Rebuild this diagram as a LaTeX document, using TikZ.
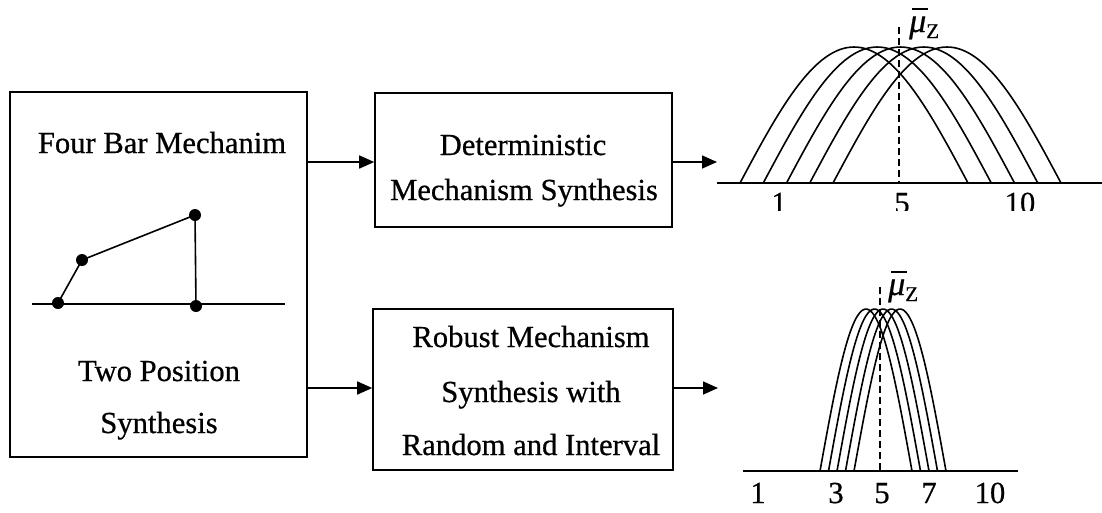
\documentclass[tikz,border=0pt]{standalone}
\usepackage{fontspec}
\setmainfont{Liberation Serif}[FakeBold=0.6]
\usetikzlibrary{arrows.meta}

\tikzset{
  box/.style={draw, line width=1.6pt, inner sep=0pt},
  lbl/.style={font=\fontsize{30.6}{36}\selectfont, anchor=base, inner sep=0pt},
  arr/.style={line width=1.6pt, -{Triangle[length=15pt,width=13pt]}},
  pin/.style={circle, fill, inner sep=0pt, minimum size=12pt},
  bar/.style={line width=1.6pt},
  hump/.style={line width=1.6pt, smooth, samples=40},
  mu/.style={font=\fontsize{34}{38}\selectfont, inner sep=0pt, anchor=base west}
}
\newcommand{\meanz}{\rlap{\hspace{3pt}\raisebox{22pt}{\rule{16pt}{1.6pt}}}\textit{μ}\raisebox{-6pt}{\fontsize{21}{24}\selectfont Z}}

\begin{document}
\begin{tikzpicture}[x=1pt,y=-1pt]
  \useasboundingbox (0,0) rectangle (1102,512);
  \node [box, minimum width=297pt, minimum height=365pt] (mech) at (158.5,274.5) {};
  \node [lbl] (fourbar) at (162,153) {Four Bar Mechanim};
  \node [lbl] (twopos) at (159,381) {Two Position};
  \node [lbl] (twosyn) at (159,433) {Synthesis};
  \coordinate (gl) at (32,304);
  \coordinate (gr) at (285,304);
  \coordinate (pA) at (58,303);
  \coordinate (pB) at (82,260);
  \coordinate (pC) at (195,215);
  \coordinate (pD) at (196,306);
  \draw [bar] (gl) -- (gr);
  \draw [bar] (pA) -- (pB) -- (pC) -- (pD);
  \foreach \p in {pA,pB,pC,pD}
    \node [pin] at (\p) {};

  \node [box, minimum width=297pt, minimum height=134pt] (det) at (523.5,160) {};
  \node [lbl] (det1) at (523,155) {Deterministic};
  \node [lbl] (det2) at (524,200) {Mechanism Synthesis};
  \node [box, minimum width=300pt, minimum height=161pt] (rob) at (523,389.5) {};
  \node [lbl] (rob1) at (531,347) {Robust Mechanism};
  \node [lbl] (rob2) at (531,402) {Synthesis with};
  \node [lbl] (rob3) at (531,455) {Random and Interval};

  \draw [arr] (mech.east |- 0,162) -- (det.west |- 0,162);
  \draw [arr] (mech.east |- 0,388) -- (rob.west |- 0,388);
  \coordinate (detout) at (717,162);
  \coordinate (robout) at (718,388);
  \draw [arr] (det.east |- detout) -- (detout);
  \draw [arr] (rob.east |- robout) -- (robout);

  \draw [bar] (717,183) -- (1102,183);
  \foreach \c in {854,877.25,900.5,923.75,947}
    \draw [hump] plot [domain=0:180] ({\c-114+1.266667*\x},{183-136*sin(\x)});
  \draw [bar, dash pattern=on 7pt off 4pt] (899,27) -- (899,183);
  \node [mu] (mutop) at (909,32) {\meanz};
  \begin{scope}
    \clip (717,184) rectangle (1102,210);
    \node [lbl] (t1) at (779,213) {1};
    \node [lbl] (t5) at (902,213) {5};
    \node [lbl] (t10) at (1020,213) {10};
  \end{scope}

  \draw [bar] (743,471) -- (1018,471);
  \foreach \c in {866,874.5,883,891.5,900}
    \draw [hump] plot [domain=0:180] ({\c-46+0.511111*\x},{471-162*sin(\x)});
  \draw [bar, dash pattern=on 7pt off 4pt] (880,287) -- (880,471);
  \node [mu] (mubot) at (888,295) {\meanz};
  \node [lbl] (b1) at (758,503) {1};
  \node [lbl] (b3) at (836,503) {3};
  \node [lbl] (b5) at (882,503) {5};
  \node [lbl] (b7) at (929,503) {7};
  \node [lbl] (b10) at (990,503) {10};
\end{tikzpicture}
\end{document}
